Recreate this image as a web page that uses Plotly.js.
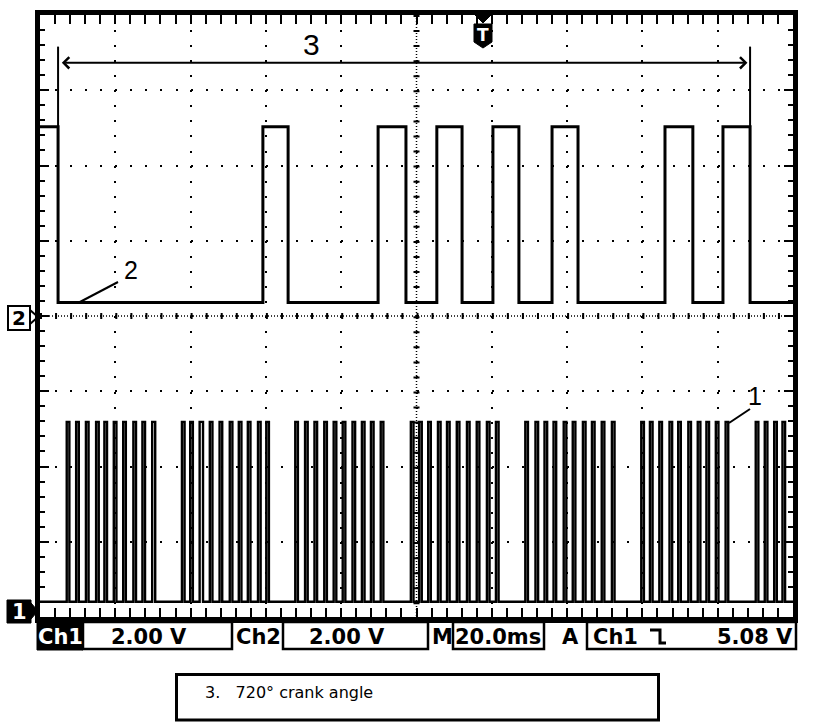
<!DOCTYPE html>
<html>
<head>
<meta charset="utf-8">
<script src="https://cdn.plot.ly/plotly-3.0.1.min.js"></script>
<style>html,body{margin:0;padding:0;background:#fff;}#chart{width:816px;height:724px;}</style>
</head>
<body>
<div id="chart"></div>
<script>
// ---- data (time in ms, 20 ms/div, 10 divisions; levels in volts, 2 V/div) ----
const ch1Low = 0.22;
const ch1High = 5.0;
const ch2Low = 0.36;
const ch2High = 5.03;

// Ch1 (crankshaft sensor) high pulses [rise, fall] in ms
const ch1Pulses = [
  [7.1,7.8],[9.6,10.3],[12.2,12.9],[14.9,15.6],[17.1,17.8],[19.6,20.3],[22.1,22.8],[24.8,25.5],[27.2,27.9],[29.8,30.6],
  [37.7,38.4],[39.9,40.6],[42.4,43.3],[45.1,45.8],[47.7,48.4],[50.4,51.1],[52.8,53.5],[55.2,55.9],[57.9,58.6],[60.1,60.8],
  [67.8,68.5],[70.4,71.1],[72.9,73.6],[75.5,76.2],[78.0,78.7],[80.4,81.1],[83.0,83.7],[85.5,86.2],[87.9,88.6],[90.5,91.2],
  [98.5,99.2],[100.7,101.4],[103.1,103.8],[105.7,106.4],[108.1,108.8],[110.7,111.4],[113.4,114.1],[116.0,116.7],[118.7,119.4],[121.1,121.8],
  [128.9,129.6],[131.6,132.3],[134.0,134.7],[136.4,137.1],[139.1,139.8],[141.5,142.2],[144.2,144.9],[146.6,147.3],[149.2,149.9],[151.9,152.6],
  [159.7,160.4],[162.0,162.7],[164.5,165.2],[167.2,167.9],[169.5,170.2],[172.2,172.9],[174.7,175.4],[177.0,177.7],[179.5,180.2],[182.1,182.8],
  [190.1,190.8],[192.5,193.2],[195.0,195.7],[197.2,197.9]
];

// Ch2 (camshaft sensor) high pulses [rise, fall] in ms
const ch2Pulses = [
  [0,4.8],[59.2,65.9],[89.8,97.2],[105.4,112.1],[120.3,127.2],[136.0,142.9],[166.0,173.4],[181.4,188.6]
];

const statusTexts = ['Ch1', '2.00 V', 'Ch2', '2.00 V', 'M', '20.0ms', 'A', 'Ch1', '5.08 V'];
const captionText = '3.\u00A0\u00A0\u00A0720° crank angle';
const cycleLabel = '3';
const ch1Label = '1';
const ch2Label = '2';

// ---- helpers ----
const T_END = 200;
function steps(pulses, lo, hi) {
  const x = [0], y = [pulses[0][0] <= 0 ? hi : lo];
  pulses.forEach(p => {
    if (p[0] > 0) { x.push(p[0]); y.push(hi); }
    x.push(p[1]); y.push(lo);
  });
  x.push(T_END); y.push(lo);
  return {x, y};
}
// pixel -> paper helpers (plot area 40..793 x 15..617)
const L = 40, R = 793, TOP = 15, BOT = 617;
const W = R - L, H = BOT - TOP;
const px = X => (X - L) / W;
const py = Y => (BOT - Y) / H;
const pth = pts => pts.map((p, i) => (i ? 'L' : 'M') + px(p[0]).toFixed(5) + ',' + py(p[1]).toFixed(5)).join(' ');

const s1 = steps(ch1Pulses, ch1Low, ch1High);
const s2 = steps(ch2Pulses, ch2Low, ch2High);

const traces = [
  {x: s1.x, y: s1.y, type: 'scatter', mode: 'lines', line: {shape: 'hv', color: '#000', width: 2.4}, yaxis: 'y', hoverinfo: 'skip'},
  {x: s2.x, y: s2.y, type: 'scatter', mode: 'lines', line: {shape: 'hv', color: '#000', width: 3}, yaxis: 'y2', hoverinfo: 'skip'}
];

const ch1Bottom = -7 / (W / 10) * 2; // ch1 ground ~7px above bottom
const gridDash = '2px,13.06px';

const commonAxis = {
  showgrid: true, gridcolor: '#000', gridwidth: 2, griddash: gridDash,
  zeroline: false, showticklabels: false,
  ticks: 'inside', ticklen: 9, tickwidth: 2, tickcolor: '#000',
  showline: true, linecolor: '#000', linewidth: 1, mirror: 'allticks', fixedrange: true
};

const layout = {
  width: 816, height: 724,
  margin: {l: L, r: 816 - R, t: TOP, b: 724 - BOT},
  paper_bgcolor: '#fff', plot_bgcolor: '#fff',
  showlegend: false, hovermode: false,
  xaxis: Object.assign({}, commonAxis, {range: [0, T_END], tick0: 0, dtick: 20,
    minor: {ticks: 'inside', ticklen: 5, tickwidth: 2, tickcolor: '#000', dtick: 4, tick0: 0, showgrid: false}}),
  yaxis: Object.assign({}, commonAxis, {range: [ch1Bottom, ch1Bottom + 16], tick0: ch1Bottom, dtick: 2,
    minor: {ticks: 'inside', ticklen: 5, tickwidth: 2, tickcolor: '#000', dtick: 0.4, tick0: ch1Bottom, showgrid: false}}),
  yaxis2: {overlaying: 'y', range: [-8, 8], visible: false, fixedrange: true},
  shapes: [
    // center cross (dense dots + ticks)
    {type: 'line', xref: 'paper', yref: 'paper', x0: 0, x1: 1, y0: 0.5, y1: 0.5, line: {color: '#000', width: 1.5, dash: '1px,2px'}, layer: 'below'},
    {type: 'line', xref: 'paper', yref: 'paper', x0: 0, x1: 1, y0: 0.5, y1: 0.5, line: {color: '#000', width: 6, dash: gridDash}, layer: 'below'},
    {type: 'line', xref: 'paper', yref: 'paper', x0: 0.5, x1: 0.5, y0: 1, y1: 0, line: {color: '#000', width: 1.5, dash: '1px,2px'}, layer: 'below'},
    {type: 'line', xref: 'paper', yref: 'paper', x0: 0.5, x1: 0.5, y0: 1, y1: 0, line: {color: '#000', width: 6, dash: gridDash}, layer: 'below'},
    // screen frame
    {type: 'rect', xref: 'paper', yref: 'paper', x0: px(37.5), x1: px(795.5), y0: py(620.5), y1: py(12.5), line: {color: '#000', width: 5}},
    // 720 deg bracket verticals
    {type: 'line', xref: 'x', yref: 'y2', x0: ch2Pulses[0][1], x1: ch2Pulses[0][1], y0: ch2High, y1: 7.16, line: {color: '#000', width: 2}},
    {type: 'line', xref: 'x', yref: 'y2', x0: ch2Pulses[ch2Pulses.length-1][1], x1: ch2Pulses[ch2Pulses.length-1][1], y0: ch2High, y1: 7.16, line: {color: '#000', width: 2}},
    // leader lines for labels 2 and 1
    {type: 'line', xref: 'paper', yref: 'paper', x0: px(118), y0: py(282), x1: px(78), y1: py(303), line: {color: '#000', width: 2}},
    {type: 'line', xref: 'paper', yref: 'paper', x0: px(750), y0: py(409), x1: px(729), y1: py(423), line: {color: '#000', width: 2}},
    // trigger marker
    {type: 'path', xref: 'paper', yref: 'paper', path: pth([[475,15],[491,15],[483,23]]) + ' Z', fillcolor: '#000', line: {color: '#000', width: 1}},
    {type: 'path', xref: 'paper', yref: 'paper', path: pth([[474,24],[492,24],[492,42],[483,48],[474,42]]) + ' Z', fillcolor: '#000', line: {color: '#000', width: 1}},
    // ch2 ground marker
    {type: 'rect', xref: 'paper', yref: 'paper', x0: px(8), x1: px(30), y0: py(330), y1: py(306), fillcolor: '#fff', line: {color: '#000', width: 2}},
    {type: 'path', xref: 'paper', yref: 'paper', path: pth([[30,310],[38,317],[30,324]]), line: {color: '#000', width: 2}},
    // ch1 ground marker
    {type: 'rect', xref: 'paper', yref: 'paper', x0: px(7), x1: px(31), y0: py(623), y1: py(600), fillcolor: '#000', line: {color: '#000', width: 1}},
    {type: 'path', xref: 'paper', yref: 'paper', path: pth([[31,603],[38,611],[31,619]]) + ' Z', fillcolor: '#000', line: {color: '#000', width: 1}},
    // status bar
    {type: 'rect', xref: 'paper', yref: 'paper', x0: px(37), x1: px(83), y0: py(650), y1: py(622), fillcolor: '#000', line: {color: '#000', width: 1}},
    {type: 'rect', xref: 'paper', yref: 'paper', x0: px(83), x1: px(232), y0: py(649), y1: py(622), line: {color: '#000', width: 2.5}},
    {type: 'rect', xref: 'paper', yref: 'paper', x0: px(283), x1: px(428), y0: py(649), y1: py(622), line: {color: '#000', width: 2.5}},
    {type: 'rect', xref: 'paper', yref: 'paper', x0: px(453), x1: px(544), y0: py(649), y1: py(622), line: {color: '#000', width: 2.5}},
    {type: 'rect', xref: 'paper', yref: 'paper', x0: px(587), x1: px(796), y0: py(649), y1: py(622), line: {color: '#000', width: 2.5}},
    // falling-edge symbol
    {type: 'path', xref: 'paper', yref: 'paper', path: pth([[650,630],[660,630],[660,643],[666,643]]), line: {color: '#000', width: 3}},
    // caption box
    {type: 'rect', xref: 'paper', yref: 'paper', x0: px(176.5), x1: px(658.5), y0: py(720), y1: py(674.5), line: {color: '#000', width: 3}}
  ],
  annotations: []
};

const A = layout.annotations;
// 720 deg double arrow
A.push({xref: 'x', yref: 'y2', axref: 'x', ayref: 'y2', x: 187.9, y: 6.73, ax: 5.4, ay: 6.73, text: '',
  showarrow: true, arrowside: 'end+start', arrowhead: 4, startarrowhead: 4, arrowsize: 1.1, startarrowsize: 1.1, arrowwidth: 2, arrowcolor: '#000'});
const lblFont = {family: 'Liberation Sans, Arial, sans-serif', color: '#000'};
A.push({xref: 'paper', yref: 'paper', x: px(311), y: py(44), text: cycleLabel, showarrow: false, xanchor: 'center', yanchor: 'middle', font: Object.assign({size: 30}, lblFont)});
A.push({xref: 'paper', yref: 'paper', x: px(131), y: py(270), text: ch2Label, showarrow: false, xanchor: 'center', yanchor: 'middle', font: Object.assign({size: 25}, lblFont)});
A.push({xref: 'paper', yref: 'paper', x: px(755), y: py(396), text: ch1Label, showarrow: false, xanchor: 'center', yanchor: 'middle', font: Object.assign({size: 25}, lblFont)});
// trigger T
A.push({xref: 'paper', yref: 'paper', x: px(483), y: py(35), text: 'T', showarrow: false, xanchor: 'center', yanchor: 'middle', font: {family: 'DejaVu Sans', size: 17, color: '#fff', weight: 'bold'}});
// ground markers
A.push({xref: 'paper', yref: 'paper', x: px(19), y: py(318), text: '2', showarrow: false, xanchor: 'center', yanchor: 'middle', font: {family: 'DejaVu Sans', size: 20, color: '#000', weight: 'bold'}});
A.push({xref: 'paper', yref: 'paper', x: px(19), y: py(612), text: '1', showarrow: false, xanchor: 'center', yanchor: 'middle', font: {family: 'DejaVu Sans', size: 21, color: '#fff', weight: 'bold'}});
// status bar texts
const sbY = py(636.5);
const sbPos = [60, 149, 258, 347, 442, 498, 570, 615, 755];
const sbCol = ['#fff', '#000', '#000', '#000', '#000', '#000', '#000', '#000', '#000'];
statusTexts.forEach((t, i) => {
  A.push({xref: 'paper', yref: 'paper', x: px(sbPos[i]), y: sbY, text: t, showarrow: false, xanchor: 'center', yanchor: 'middle',
    font: {family: 'DejaVu Sans', size: 21, color: sbCol[i], weight: 'bold'}});
});
// caption
A.push({xref: 'paper', yref: 'paper', x: px(203), y: py(692), text: captionText, showarrow: false, xanchor: 'left', yanchor: 'middle',
  font: {family: 'DejaVu Sans', size: 16, color: '#000'}});

Plotly.newPlot('chart', traces, layout, {displayModeBar: false, staticPlot: true});
</script>
</body>
</html>
